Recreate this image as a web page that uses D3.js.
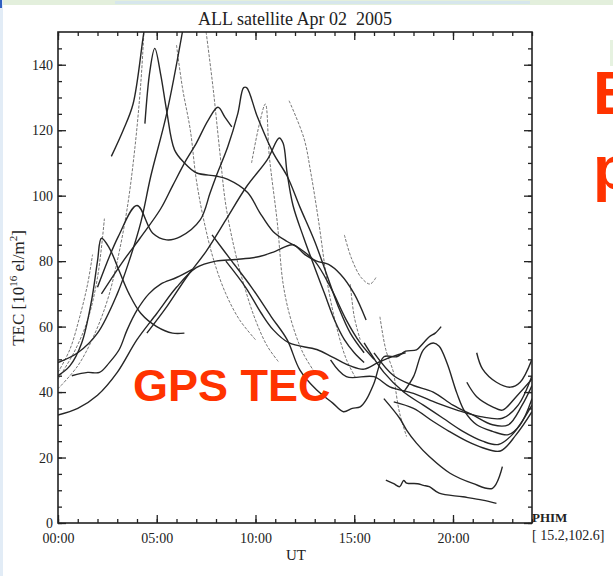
<html>
<head>
<script src="https://d3js.org/d3.v7.min.js"></script>
<style>
  body { margin: 0; background: #fff; }
  svg { display: block; }
  text { font-family: 'Liberation Serif', 'DejaVu Serif', serif; }
</style>
</head>
<body>
<svg id="tec" width="613" height="576"></svg>
<script>
// tick labels
var xMajor = [0, 5, 10, 15, 20];
var xTickLabels = ["00:00", "05:00", "10:00", "15:00", "20:00"];
var yMajor = [0, 20, 40, 60, 80, 100, 120, 140];

// satellite passes: [UT hour, TEC]
var passA = [[0,49],[1,52],[2,58],[3,70],[3.6,80],[4.2,92],[4.7,106],[5.5,125],[6.3,150]];
var passB = [[4.4,122],[4.65,138],[4.9,145],[5.2,137],[5.5,126],[5.9,114],[6.4,110],[7,107],[8,106],[8.6,105],[9.6,101],[10.2,95],[10.9,89],[11.6,86],[12.2,84],[13,80],[13.8,72],[14.6,62],[15.3,55],[16,50]];
var passC = [[2.2,70],[3.3,80],[4.15,87],[5.2,96],[5.8,103],[6.5,111],[7,116],[7.6,123],[8.1,127],[8.45,124],[8.8,121]];
var passD = [[0,45],[0.6,48],[1.2,55],[1.7,68],[2,80],[2.2,87],[2.6,84],[3.1,77],[3.6,70],[4.2,64],[5,60],[5.8,58],[6.4,58]];
var passE = [[2,72],[3.05,87.5],[4,97],[4.8,88.5],[5.5,86.5],[6.2,87.5],[7.2,92.6],[7.7,100.8],[8,105.8],[8.6,115],[9.1,125],[9.4,133],[9.55,133],[10.1,124],[10.9,113],[11.6,106],[12.25,96.5],[13,86],[13.6,76],[14.2,66],[14.8,58],[15.5,52]];
var passF = [[4.5,58],[5.5,66],[6.5,75],[7.5,83],[8.5,92.6],[9.55,102.8],[10.6,111],[11.2,117.6],[11.4,116],[11.6,107],[11.9,97],[12.45,87],[13,78],[13.5,70],[14,62],[14.5,56],[15,52],[15.5,49]];
var passG = [[0,33],[1,35],[2,39],[3,46],[4,56],[5,64],[6,72],[7,78],[8,80],[9,80.5],[10.2,81.4],[11,83],[11.9,85],[12.5,82],[13.1,80],[13.7,79],[14.3,76],[15,70],[15.6,62]];
var passH = [[0.7,45],[1.5,46],[2.1,46],[2.6,49],[3.1,53],[3.5,59],[4,65],[4.6,70],[5.2,73],[6,75],[6.8,77.5]];
var passI = [[2.7,112],[3.3,120],[3.8,128],[4.3,148],[4.4,152]];
var passM1 = [[8.5,80],[9.5,72],[10.3,64],[10.9,59],[11.7,55],[13.1,53],[13.9,50.7],[14.8,48],[15.5,47],[16.2,49],[17,51],[17.6,52]];
var passM2 = [[7.8,88],[8.8,80],[9.8,72],[10.8,63],[11.6,56],[12.25,46.7],[13.1,40.6],[13.9,36.7],[14.45,34],[14.9,35],[15.3,35.5],[15.6,37.6],[16,42.7],[16.5,50.8],[17.15,50.8],[17.6,52.5],[18.15,52.9],[18.5,55],[18.8,56.9],[19.1,58],[19.4,60]];
var passR1 = [[21.2,52],[21.5,47],[22.2,43],[22.9,41.5],[23.4,43],[24,50]];
var passR2 = [[20.7,43],[21.2,38.6],[22,35.5],[22.5,34.5],[23.2,38.6],[24,44]];
var passR3 = [[16,52],[17,45],[18,42],[19,40],[20,36],[21,33],[22,30],[22.8,30],[23.5,36],[24,42]];
var passR4 = [[15.5,55],[16.5,46],[17.5,40],[18.5,36],[19.5,32],[20.5,28],[21.5,25],[22.3,24],[23,27],[24,36]];
var passR5 = [[17,37],[18,35],[19,31],[19.8,28],[20.7,25],[21.5,23],[22.4,22],[23.2,27],[24,34]];
var passR6 = [[16.5,38],[17.3,32],[17.65,28.4],[18.15,24.4],[18.8,20.3],[19.85,15.2],[21,12.1],[22,10.6],[22.5,17.2]];
var passR7 = [[16.6,13.1],[17,12],[17.3,11.1],[17.5,13],[17.65,12.2],[18.2,12],[18.5,11.5],[18.8,11.1],[19.3,9.1],[20.5,8],[21.5,7],[22.2,6]];
var passR8 = [[17.5,40],[18,44.7],[18.5,52.9],[19,55],[19.3,54],[19.7,48.8],[20.2,39.6],[20.6,34],[21.2,30],[22,28],[22.8,27],[23.4,30],[24,38]];
var passR12 = [[13.8,49.8],[14.6,44.7],[16,44.7],[16.8,41.6],[18,39.6],[19.2,36.6],[20.2,34.5],[21.4,32.5],[22.5,32],[23.3,36],[24,45]];

var passD1 = [[0,46],[0.6,53],[1.1,63],[1.5,73],[1.75,82]];
var passD2 = [[0,44],[0.8,52],[1.5,62],[2,75],[2.35,93]];
var passD3 = [[0,41],[1,48],[1.8,57],[2.5,68],[3,80],[3.5,96],[3.9,115],[4.2,135],[4.35,150]];
var passD5 = [[7.5,150],[7.85,133],[8.2,113],[8.5,97],[9,82],[9.5,71],[10,62],[10.6,54],[11.2,49]];
var passD6 = [[6,146],[6.3,133],[6.7,120],[7,105],[7.4,92],[7.9,80],[8.5,70],[9.2,62],[10,56]];
var passD7 = [[9.8,110],[10.2,122],[10.5,128],[10.7,112],[11.1,92],[11.4,73],[11.8,62],[12.4,52],[13,46]];
var passD8 = [[11.7,129],[12.45,117.6],[12.8,107],[13.2,92],[13.65,73],[14.1,60],[14.6,50],[15.1,44]];
var passD10 = [[14.5,88],[14.85,81],[15.35,75],[15.8,73],[16.1,75]];
var passD11 = [[16.3,63],[16.6,52.9],[17,45.7],[17.1,40.6],[17.3,33.5],[17.65,26.4]];
var passD12 = [[14.8,73],[15,63],[15.3,56]];

var solidPasses = [passA, passB, passC, passD, passE, passF, passG, passH, passI, passM1, passM2,
                   passR1, passR2, passR3, passR4, passR5, passR6, passR7, passR8, passR12];
var dashedPasses = [passD1, passD2, passD3, passD5, passD6, passD7, passD8, passD10, passD11, passD12];

var svg = d3.select("#tec");
var plotLeft = 58, plotRight = 532, plotTop = 32, plotBottom = 523;

// slide background pieces around the figure
svg.append("rect").attr("x", 0).attr("y", 0).attr("width", 613).attr("height", 5).attr("fill", "#e3efdc");
svg.append("rect").attr("x", 115).attr("y", 1).attr("width", 415).attr("height", 3).attr("fill", "#d6e6ec");
svg.append("rect").attr("x", 0).attr("y", 0).attr("width", 3).attr("height", 576).attr("fill", "#e2ecf6");
svg.append("rect").attr("x", 0).attr("y", 0).attr("width", 2).attr("height", 8).attr("fill", "#3060c0");
svg.append("rect").attr("x", 610).attr("y", 40).attr("width", 3).attr("height", 26).attr("fill", "#e6f2e0");

var x = d3.scaleLinear().domain([0, 24]).range([plotLeft, plotRight]);
var y = d3.scaleLinear().domain([0, 150]).range([plotBottom, plotTop]);

svg.append("defs").append("clipPath").attr("id", "plotclip")
  .append("rect").attr("x", plotLeft).attr("y", plotTop)
  .attr("width", plotRight - plotLeft).attr("height", plotBottom - plotTop);

var line = d3.line()
  .x(function (d) { return x(d[0]); })
  .y(function (d) { return y(d[1]); })
  .curve(d3.curveCatmullRom.alpha(0.5));

var plot = svg.append("g").attr("clip-path", "url(#plotclip)");

plot.selectAll("path.dashed").data(dashedPasses).enter()
  .append("path").attr("class", "dashed")
  .attr("d", line)
  .attr("fill", "none")
  .attr("stroke", "#666")
  .attr("stroke-width", 0.9)
  .attr("stroke-dasharray", "3,1.5");

plot.selectAll("path.solid").data(solidPasses).enter()
  .append("path").attr("class", "solid")
  .attr("d", line)
  .attr("fill", "none")
  .attr("stroke", "#262626")
  .attr("stroke-width", 1.4);

// axes, ticks pointing inward
function styleAxis(g) {
  g.select(".domain").remove();
  g.selectAll("line").attr("stroke", "#222").attr("stroke-width", 1.3);
  g.selectAll("text").attr("fill", "#222").style("font-family", "'Liberation Serif', serif").style("font-size", "14px");
}

svg.append("g").attr("transform", "translate(0," + plotBottom + ")")
  .call(d3.axisBottom(x).tickValues(d3.range(0, 25)).tickSize(-4).tickSizeOuter(0).tickFormat(""))
  .call(styleAxis);
svg.append("g").attr("transform", "translate(0," + plotBottom + ")")
  .call(d3.axisBottom(x).tickValues(xMajor).tickSize(-8).tickSizeOuter(0).tickPadding(10)
    .tickFormat(function (d, i) { return xTickLabels[i]; }))
  .call(styleAxis);
svg.append("g").attr("transform", "translate(0," + plotTop + ")")
  .call(d3.axisTop(x).tickValues(d3.range(0, 25)).tickSize(-4).tickSizeOuter(0).tickFormat(""))
  .call(styleAxis);
svg.append("g").attr("transform", "translate(0," + plotTop + ")")
  .call(d3.axisTop(x).tickValues(xMajor).tickSize(-8).tickSizeOuter(0).tickFormat(""))
  .call(styleAxis);

svg.append("g").attr("transform", "translate(" + plotLeft + ",0)")
  .call(d3.axisLeft(y).tickValues(d3.range(0, 150, 5)).tickSize(-4).tickSizeOuter(0).tickFormat(""))
  .call(styleAxis);
svg.append("g").attr("transform", "translate(" + plotLeft + ",0)")
  .call(d3.axisLeft(y).tickValues(yMajor).tickSize(-8).tickSizeOuter(0).tickPadding(5))
  .call(styleAxis);
svg.append("g").attr("transform", "translate(" + plotRight + ",0)")
  .call(d3.axisRight(y).tickValues(d3.range(0, 150, 5)).tickSize(-4).tickSizeOuter(0).tickFormat(""))
  .call(styleAxis);
svg.append("g").attr("transform", "translate(" + plotRight + ",0)")
  .call(d3.axisRight(y).tickValues(yMajor).tickSize(-8).tickSizeOuter(0).tickFormat(""))
  .call(styleAxis);

svg.append("rect").attr("x", plotLeft).attr("y", plotTop)
  .attr("width", plotRight - plotLeft).attr("height", plotBottom - plotTop)
  .attr("fill", "none").attr("stroke", "#222").attr("stroke-width", 1.6);

// titles
svg.append("text").attr("x", 295).attr("y", 25).attr("text-anchor", "middle")
  .style("font-size", "18px").style("white-space", "pre").attr("fill", "#222")
  .text("ALL satellite Apr 02  2005");

svg.append("text").attr("x", 296).attr("y", 560).attr("text-anchor", "middle")
  .style("font-size", "15px").attr("fill", "#222").text("UT");

var yl = svg.append("text").attr("transform", "translate(24,288) rotate(-90)")
  .attr("text-anchor", "middle").style("font-size", "17px").attr("fill", "#222");
yl.append("tspan").text("TEC [10");
yl.append("tspan").attr("dy", -7).style("font-size", "11px").text("16");
yl.append("tspan").attr("dy", 7).text(" el/m");
yl.append("tspan").attr("dy", -7).style("font-size", "11px").text("2");
yl.append("tspan").attr("dy", 7).text("]");

svg.append("text").attr("x", 532).attr("y", 522)
  .style("font-size", "13px").style("font-weight", "bold").attr("fill", "#222").text("PHIM");
svg.append("text").attr("x", 532).attr("y", 540)
  .style("font-size", "14px").style("white-space", "pre").attr("fill", "#222").text("[ 15.2,102.6]");

// slide overlay text
svg.append("text").attr("x", 133).attr("y", 401)
  .style("font-family", "'Liberation Sans', Arial, sans-serif").style("font-size", "45px").style("font-weight", "bold")
  .attr("fill", "#ff3300").text("GPS TEC");
svg.append("text").attr("x", 593).attr("y", 114)
  .style("font-family", "'Liberation Sans', Arial, sans-serif").style("font-size", "62px").style("font-weight", "bold")
  .attr("fill", "#ff3300").text("B");
svg.append("text").attr("x", 593).attr("y", 189)
  .style("font-family", "'Liberation Sans', Arial, sans-serif").style("font-size", "62px").style("font-weight", "bold")
  .attr("fill", "#ff3300").text("p");
</script>
</body>
</html>
